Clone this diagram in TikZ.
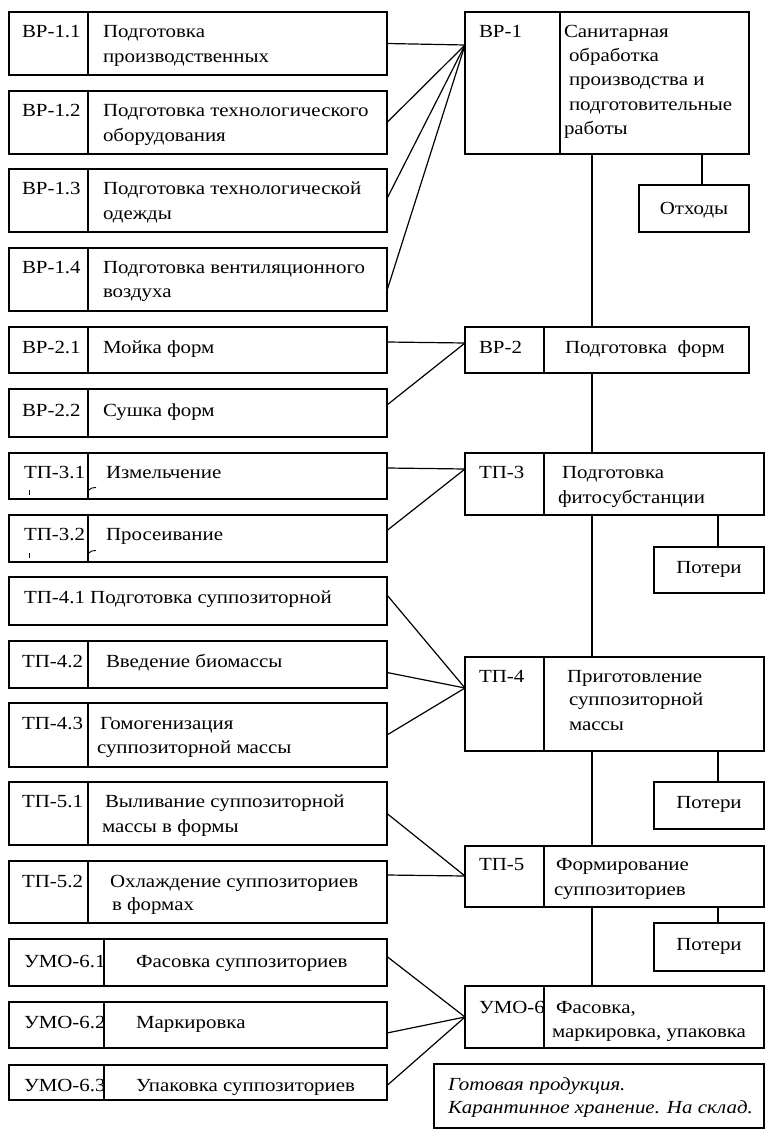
\documentclass[tikz,border=0pt]{standalone}
\usepackage{fontspec}
\setmainfont{Liberation Serif}[FakeStretch=1.13]
\newcommand\fs{\fontsize{18.5}{22}\selectfont}
\tikzset{
  box/.style={draw, line width=1.2pt, inner sep=0pt, outer sep=0pt, rectangle},
  t/.style={anchor=base west, inner sep=0pt, outer sep=0pt, font=\fs},
  tc/.style={anchor=base, inner sep=0pt, outer sep=0pt, font=\fs},
  ln/.style={line width=1.2pt},
}
\newcommand\rbox[5]{\node[box,minimum width=#4pt,minimum height=#5pt,anchor=north west] (#1) at (#2,#3) {};}
\newcommand\dv[2]{\draw[ln] ([xshift=#2pt]#1.north west) -- ([xshift=#2pt]#1.south west);}
\newcommand\tx[4]{\node[t] (#1) at (#2,#3) {#4};}
\begin{document}
\begin{tikzpicture}[x=1pt,y=-1pt]
\useasboundingbox (0,0) rectangle (774,1139);
\fill[white] (0,0) rectangle (774,1139);
% left boxes
\rbox{b11}{9}{12}{378}{63}   \dv{b11}{79}
\rbox{b12}{9}{91}{378}{63}   \dv{b12}{79}
\rbox{b13}{9}{169}{378}{63}  \dv{b13}{79}
\rbox{b14}{9}{248}{378}{63}  \dv{b14}{79}
\rbox{b21}{9}{327}{378}{46}  \dv{b21}{79}
\rbox{b22}{9}{389}{378}{48}  \dv{b22}{79}
\rbox{t31}{9}{453}{378}{46}  \dv{t31}{79}
\rbox{t32}{9}{515}{378}{47}  \dv{t32}{79}
\rbox{t41}{9}{577}{378}{48}
\rbox{t42}{9}{641}{378}{47}  \dv{t42}{79}
\rbox{t43}{9}{703}{378}{64}  \dv{t43}{79}
\rbox{t51}{9}{782}{378}{63}  \dv{t51}{79}
\rbox{t52}{9}{861}{378}{62}  \dv{t52}{79}
\rbox{u61}{9}{939}{378}{47}  \dv{u61}{95}
\rbox{u62}{9}{1002}{378}{46} \dv{u62}{95}
\rbox{u63}{9}{1065}{378}{35} \dv{u63}{95}
% right boxes
\rbox{bp1}{465}{12}{284}{142} \dv{bp1}{95}
\rbox{otx}{639}{185}{110}{47}
\rbox{bp2}{465}{327}{284}{46} \dv{bp2}{79}
\rbox{tp3}{465}{453}{299}{62} \dv{tp3}{79}
\rbox{pot1}{654}{547}{110}{46}
\rbox{tp4}{465}{657}{299}{94} \dv{tp4}{79}
\rbox{pot2}{654}{782}{110}{47}
\rbox{tp5}{465}{846}{299}{61} \dv{tp5}{79}
\rbox{pot3}{654}{923}{110}{48}
\rbox{um6}{465}{986}{299}{62} \dv{um6}{79}
\rbox{fin}{434}{1064}{330}{64}
% spine
\coordinate (sp) at (592,0);
\draw[ln] (bp1.south -| sp) -- (bp2.north -| sp);
\draw[ln] (bp2.south -| sp) -- (tp3.north -| sp);
\draw[ln] (tp3.south -| sp) -- (tp4.north -| sp);
\draw[ln] (tp4.south -| sp) -- (tp5.north -| sp);
\draw[ln] (tp5.south -| sp) -- (um6.north -| sp);
% losses
\draw[ln] ([xshift=8pt]otx.north) -- ([xshift=8pt]otx.north |- bp1.south);
\draw[ln] ([xshift=9pt]pot1.north) -- ([xshift=9pt]pot1.north |- tp3.south);
\draw[ln] ([xshift=9pt]pot2.north) -- ([xshift=9pt]pot2.north |- tp4.south);
\draw[ln] ([xshift=9pt]pot3.north) -- ([xshift=9pt]pot3.north |- tp5.south);
% convergence points
\coordinate (k1) at ([yshift=-33pt]bp1.north west);
\coordinate (k2) at ([yshift=-16pt]bp2.north west);
\coordinate (k3) at ([yshift=-16pt]tp3.north west);
\coordinate (k4) at ([yshift=-31pt]tp4.north west);
\coordinate (k5) at ([yshift=-30pt]tp5.north west);
\coordinate (k6) at ([yshift=-31pt]um6.north west);
\draw[ln] (b11.east) -- (k1);
\draw[ln] (b12.east) -- (k1);
\draw[ln] ([yshift=2pt]b13.east) -- (k1);
\draw[ln] ([yshift=-11pt]b14.east) -- (k1);
\draw[ln] ([yshift=8pt]b21.east) -- (k2);
\draw[ln] ([yshift=8pt]b22.east) -- (k2);
\draw[ln] ([yshift=8pt]t31.east) -- (k3);
\draw[ln] ([yshift=8pt]t32.east) -- (k3);
\draw[ln] ([yshift=6pt]t41.east) -- (k4);
\draw[ln] ([yshift=-8pt]t42.east) -- (k4);
\draw[ln] (t43.east) -- (k4);
\draw[ln] (t51.east) -- (k5);
\draw[ln] ([yshift=17pt]t52.east) -- (k5);
\draw[ln] ([yshift=6pt]u61.east) -- (k6);
\draw[ln] ([yshift=-8pt]u62.east) -- (k6);
\draw[ln] ([yshift=-3pt]u63.east) -- (k6);
% texts left
\tx{a1}{22}{38}{ВР-1.1} \tx{a1a}{103}{38}{Подготовка} \tx{a1b}{103}{63}{производственных}
\tx{a2}{22}{117}{ВР-1.2} \tx{a2a}{103}{117}{Подготовка технологического} \tx{a2b}{103}{142}{оборудования}
\tx{a3}{22}{195}{ВР-1.3} \tx{a3a}{103}{195}{Подготовка технологической} \tx{a3b}{103}{220}{одежды}
\tx{a4}{22}{274}{ВР-1.4} \tx{a4a}{103}{274}{Подготовка вентиляционного} \tx{a4b}{103}{298}{воздуха}
\tx{c1}{22}{353}{ВР-2.1} \tx{c1a}{103}{353}{Мойка форм}
\tx{c2}{22}{416}{ВР-2.2} \tx{c2a}{103}{416}{Сушка форм}
\tx{d1}{24}{478}{ТП-3.1} \tx{d1a}{106}{478}{Измельчение}
\tx{d2}{24}{540}{ТП-3.2} \tx{d2a}{106}{540}{Просеивание}
\draw[line width=1pt] (29,490) -- (29,495);
\draw[line width=1pt] (29,553) -- (29,558);
\draw[line width=0.9pt] (89,490) .. controls (91,488) .. (96,487.5);
\draw[line width=0.9pt] (89,553) .. controls (91,551) .. (96,550.5);
\tx{e1}{24}{603}{ТП-4.1 Подготовка суппозиторной}
\tx{e2}{22}{667}{ТП-4.2} \tx{e2a}{106}{667}{Введение биомассы}
\tx{e3}{22}{729}{ТП-4.3} \tx{e3a}{100}{729}{Гомогенизация} \tx{e3b}{97}{753}{суппозиторной массы}
\tx{f1}{22}{807}{ТП-5.1} \tx{f1a}{105}{807}{Выливание суппозиторной} \tx{f1b}{102}{832}{массы в формы}
\tx{f2}{22}{887}{ТП-5.2} \tx{f2a}{110}{887}{Охлаждение суппозиториев} \tx{f2b}{112}{910}{в формах}
\tx{g1}{24}{967}{УМО-6.1} \tx{g1a}{136}{967}{Фасовка суппозиториев}
\tx{g2}{24}{1028}{УМО-6.2} \tx{g2a}{136}{1028}{Маркировка}
\tx{g3}{24}{1091}{УМО-6.3} \tx{g3a}{136}{1091}{Упаковка суппозиториев}
% texts right
\tx{r1}{479}{38}{ВР-1}
\tx{r1a}{564}{38}{Санитарная} \tx{r1b}{569}{62}{обработка} \tx{r1c}{569}{86}{производства и}
\tx{r1d}{569}{111}{подготовительные} \tx{r1e}{564}{135}{работы}
\node[tc] (ot) at (694,215) {Отходы};
\tx{r2}{479}{353}{ВР-2} \tx{r2a}{565}{353}{Подготовка\ \ форм}
\tx{r3}{479}{478}{ТП-3} \tx{r3a}{562}{478}{Подготовка} \tx{r3b}{558}{503}{фитосубстанции}
\node[tc] (p1) at (709,573) {Потери};
\tx{r4}{479}{682}{ТП-4} \tx{r4a}{567}{682}{Приготовление} \tx{r4b}{569}{705}{суппозиторной} \tx{r4c}{569}{730}{массы}
\node[tc] (p2) at (709,808) {Потери};
\tx{r5}{479}{870}{ТП-5} \tx{r5a}{556}{870}{Формирование} \tx{r5b}{554}{895}{суппозиториев}
\node[tc] (p3) at (709,950) {Потери};
\tx{r6}{479}{1013}{УМО-6} \tx{r6a}{556}{1013}{Фасовка,} \tx{r6b}{552}{1037}{маркировка, упаковка}
\node[t,font=\fs\itshape] (h1) at (448,1090) {Готовая продукция.};
\node[t,font=\fs\itshape] (h2) at (448,1113) {Карантинное хранение. На склад.};
\end{tikzpicture}
\end{document}
